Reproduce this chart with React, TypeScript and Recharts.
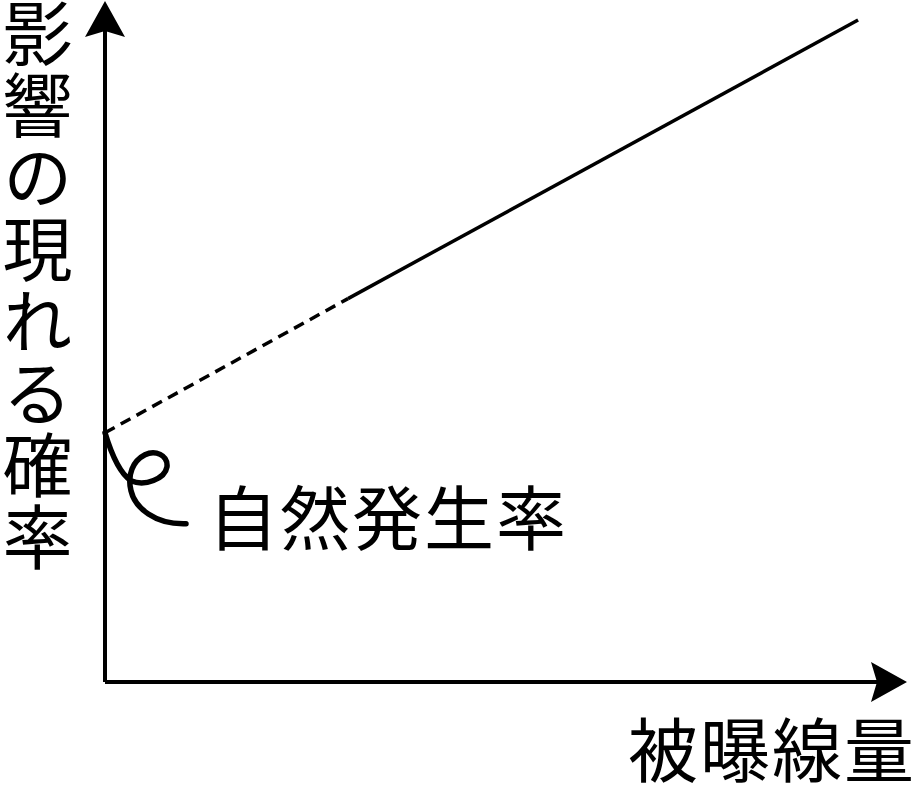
import React from 'react';
import { LineChart, Line, XAxis, YAxis, ReferenceLine, ReferenceDot } from 'recharts';

// 線量(横軸)と影響の確率(縦軸) - 0..100 の相対値
const doseX = [0, 30.3, 93.9];
const extrapolated = [36.6, 56.3, null];
const observed = [null, 56.3, 97.2];
const AXIS_MAX = 100;

const yLabel = '影響の現れる確率';
const xLabel = '被曝線量';
const naturalLabel = '自然発生率';

const FONT = '"Noto Sans CJK JP", "Noto Sans", sans-serif';

const data = doseX.map((x, i) => ({ dose: x, dashed: extrapolated[i], solid: observed[i] }));

// 軸 + 矢印
const ArrowAxis = (props: any) => {
  const { x1, y1, x2, y2 } = props;
  const dx = x2 - x1;
  const dy = y2 - y1;
  const len = Math.sqrt(dx * dx + dy * dy) || 1;
  const ux = dx / len;
  const uy = dy / len;
  const px = -uy;
  const py = ux;
  const head = 36;
  const half = 20;
  const notch = 6;
  const bx = x2 - ux * head;
  const by = y2 - uy * head;
  const pts = [
    [x2, y2],
    [bx + px * half, by + py * half],
    [bx + ux * notch, by + uy * notch],
    [bx - px * half, by - py * half],
  ];
  return (
    <g>
      <line x1={x1} y1={y1} x2={bx + ux * notch} y2={by + uy * notch} stroke="#000" strokeWidth={4} />
      <polygon points={pts.map((p) => p.join(',')).join(' ')} fill="#000" />
    </g>
  );
};

// 自然発生率を指すくるっとした引き出し線
const Curl = (props: any) => {
  const { cx, cy } = props;
  return (
    <path
      transform={`translate(${cx},${cy})`}
      d="M0,0 C6,20 14,40 26,48 C40,54 60,46 62,34 C63,22 50,17 40,22 C28,28 22,42 26,58 C30,75 50,92 81,91"
      fill="none"
      stroke="#000"
      strokeWidth={5.5}
      strokeLinecap="round"
    />
  );
};

export default function App() {
  return (
    <div style={{ position: 'absolute', left: 0, top: 0, width: 917, height: 797, background: '#fff', fontFamily: FONT }}>
      <LineChart width={917} height={797} data={data} margin={{ top: 1, right: 10, bottom: 115, left: 105 }}>
        <XAxis dataKey="dose" type="number" domain={[0, AXIS_MAX]} hide />
        <YAxis type="number" domain={[0, AXIS_MAX]} hide />
        <ReferenceLine segment={[{ x: 0, y: 0 }, { x: 0, y: AXIS_MAX }]} shape={ArrowAxis} ifOverflow="visible" />
        <ReferenceLine segment={[{ x: 0, y: 0 }, { x: AXIS_MAX, y: 0 }]} shape={ArrowAxis} ifOverflow="visible" />
        <Line dataKey="dashed" stroke="#000" strokeWidth={3.5} strokeDasharray="11 7" dot={false} isAnimationActive={false} connectNulls={false} />
        <Line dataKey="solid" stroke="#000" strokeWidth={3.5} dot={false} isAnimationActive={false} connectNulls={false} />
        <ReferenceDot x={doseX[0]} y={extrapolated[0] as number} shape={Curl} ifOverflow="visible" />
      </LineChart>
      <div style={{ position: 'absolute', left: 1, top: -2, width: 72, fontSize: 70, lineHeight: '72px', writingMode: 'vertical-rl', letterSpacing: 2 }}>
        {yLabel}
      </div>
      <div style={{ position: 'absolute', left: 628, top: 712, fontSize: 70, lineHeight: '70px', letterSpacing: 2, whiteSpace: 'nowrap' }}>
        {xLabel}
      </div>
      <div style={{ position: 'absolute', left: 208, top: 480, fontSize: 70, lineHeight: '70px', letterSpacing: 2, whiteSpace: 'nowrap' }}>
        {naturalLabel}
      </div>
    </div>
  );
}
